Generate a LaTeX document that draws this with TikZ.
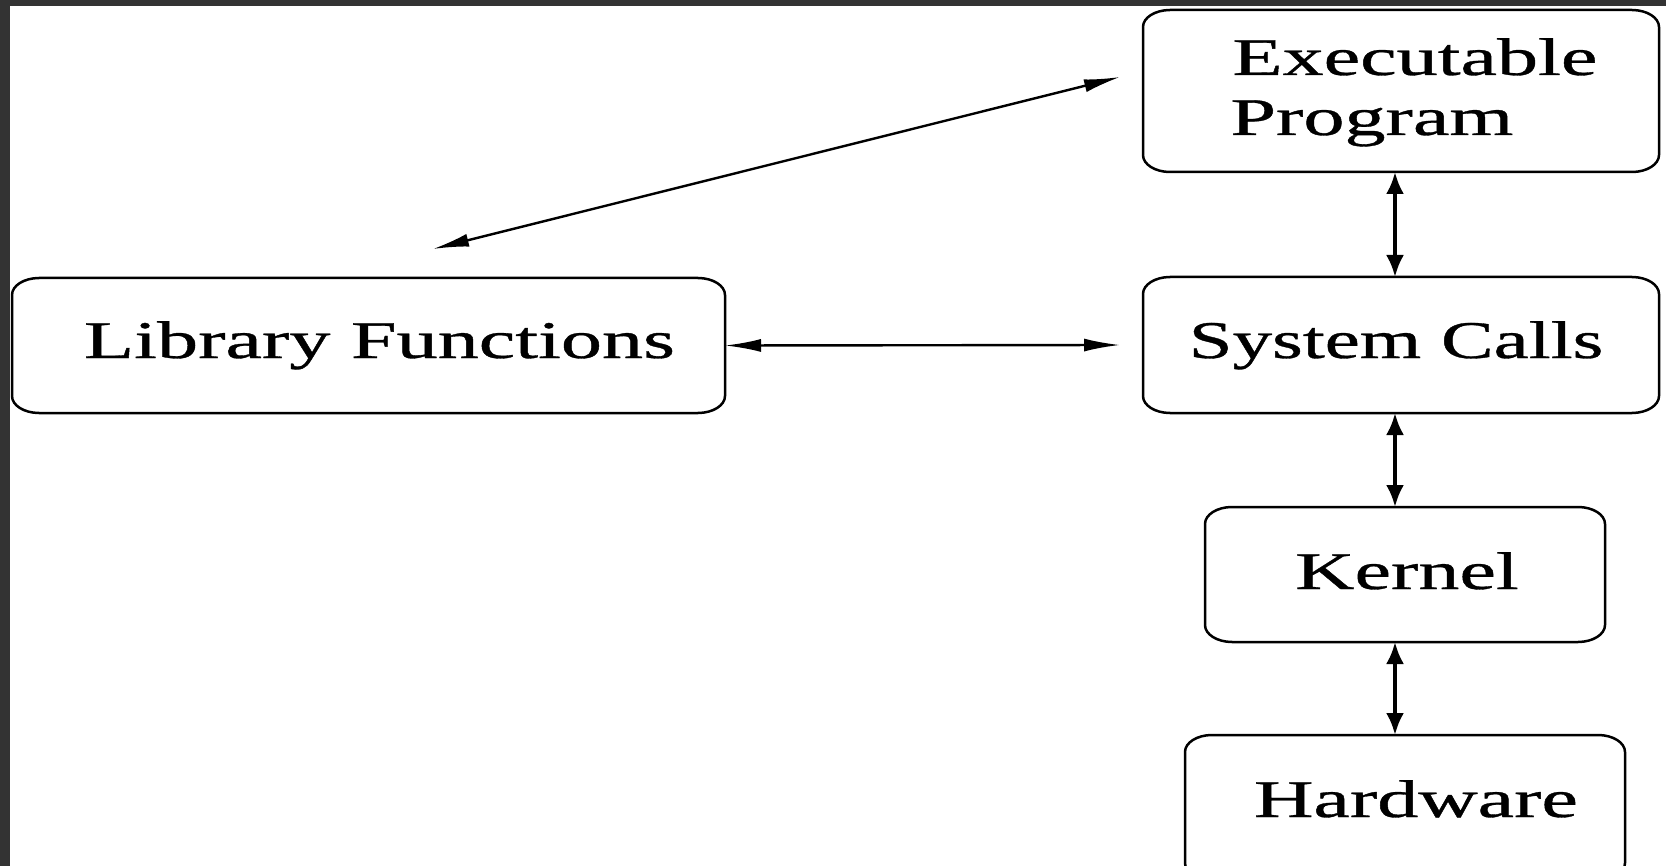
\documentclass[tikz,border=0pt]{standalone}
\usepackage{fontspec}
\setmainfont{Liberation Serif}
\newfontfamily\lblfont{Liberation Serif}[FakeBold=0.6]
\usetikzlibrary{arrows.meta}
\definecolor{frame}{HTML}{333333}
\newcommand\wt[2][1.55]{\scalebox{#1}[1]{#2}}
\newcommand\ellbox[1]{%
  \draw[boxline] ([xshift=13.5pt]#1.north west) -- ([xshift=-13.5pt]#1.north east)
    arc[start angle=90,end angle=0,x radius=13.5pt,y radius=8.5pt]
    -- ([yshift=8.5pt]#1.south east)
    arc[start angle=0,end angle=-90,x radius=13.5pt,y radius=8.5pt]
    -- ([xshift=13.5pt]#1.south west)
    arc[start angle=270,end angle=180,x radius=13.5pt,y radius=8.5pt]
    -- ([yshift=-8.5pt]#1.north west)
    arc[start angle=180,end angle=90,x radius=13.5pt,y radius=8.5pt] -- cycle;}
\begin{document}
\begin{tikzpicture}[x=0.5pt,y=-0.5pt,
  boxshape/.style={rectangle,draw=none,inner sep=0pt,outer sep=0pt},
  boxline/.style={line width=1.25pt,black},
  lbl/.style={inner sep=0pt,font=\lblfont\fontsize{26.5pt}{30pt}\selectfont},
  vert/.style={line width=1.9pt,{Latex[length=11pt,width=9pt]}-{Latex[length=11pt,width=9pt]}},
  slim/.style={line width=1.2pt,{Latex[length=18pt,width=6.5pt]}-{Latex[length=18pt,width=6.5pt]}}]
\useasboundingbox (0,0) rectangle (1666,866);
\clip (0,0) rectangle (1666,866);
\fill[white] (0,0) rectangle (1666,866);
\fill[frame] (0,0) rectangle (1666,6);
\fill[frame] (0,0) rectangle (10,866);
% boxes
\node[boxshape,minimum width=258pt,minimum height=81pt] (exec) at (1401,91) {};
\node[boxshape,minimum width=258pt,minimum height=68pt] (sys) at (1401,345) {};
\node[boxshape,minimum width=356.5pt,minimum height=67.5pt] (lib) at (368.5,345.5) {};
\node[boxshape,minimum width=200pt,minimum height=67.5pt] (kern) at (1405,574.5) {};
\node[boxshape,minimum width=220pt,minimum height=72.5pt] (hw) at (1405,807.5) {};
\ellbox{exec}
\ellbox{sys}
\ellbox{lib}
\ellbox{kern}
\ellbox{hw}
% texts
\node[lbl,anchor=base west] (execA) at (1232,75) {\wt{Executable}};
\node[lbl,anchor=base west] (execB) at (1230,135) {\wt{Program}};
\node[lbl,anchor=base] (sysT) at (1396,358) {\wt[1.49]{System Calls}};
\node[lbl,anchor=base] (libT) at (379.5,358) {\wt{Library Functions}};
\node[lbl,anchor=base] (kernT) at (1407,589) {\wt{Kernel}};
\node[lbl,anchor=base] (hwT) at (1416,817) {\wt{Hardware}};
% free ends
\coordinate (diagL) at (433,249);
\coordinate (diagR) at (1120,77);
\coordinate (horR) at ([xshift=-11.5pt]sys.west);
% connectors
\draw[slim] (diagL) -- (diagR);
\draw[slim] (lib.east) -- (horR);
\draw[vert] ([xshift=-3pt]exec.south) -- ([xshift=-3pt]sys.north);
\draw[vert] ([xshift=-3pt]sys.south) -- ([xshift=-5pt]kern.north);
\draw[vert] ([xshift=-5pt]kern.south) -- ([xshift=-5pt]hw.north);
\end{tikzpicture}
\end{document}
